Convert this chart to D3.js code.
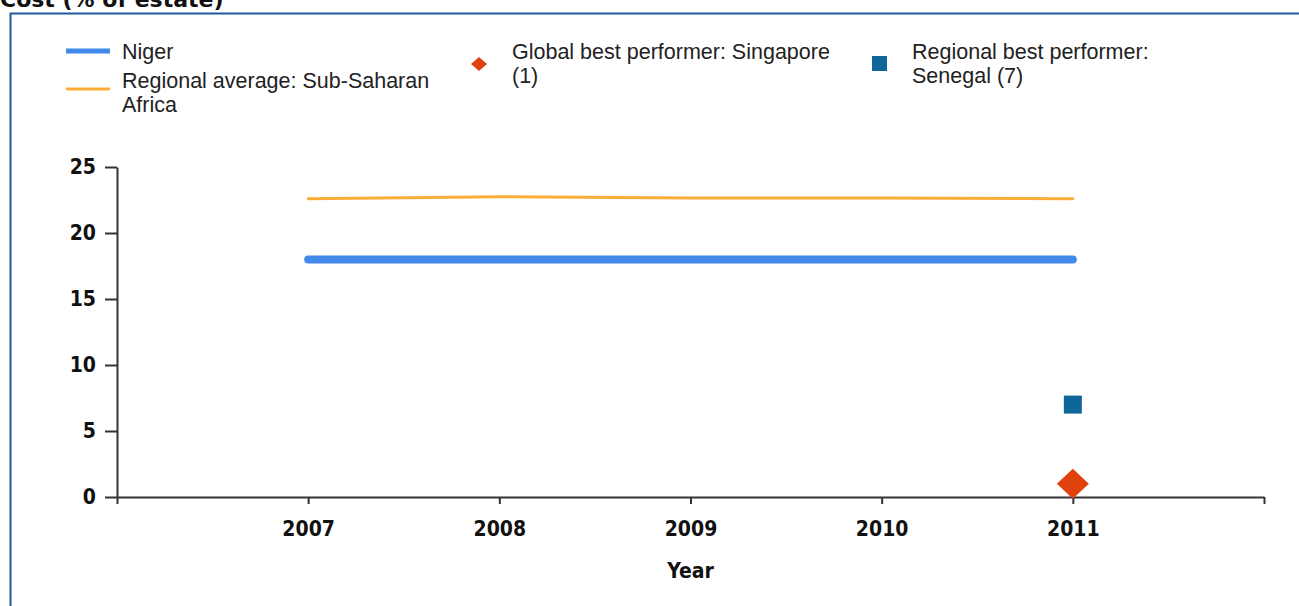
<!DOCTYPE html>
<html>
<head>
<meta charset="utf-8">
<script src="https://cdn.jsdelivr.net/npm/d3@7"></script>
<style>
  html, body { margin: 0; padding: 0; background: #fff; overflow: hidden; }
  svg { display: block; }
</style>
</head>
<body>
<svg id="chart" width="1299" height="606"></svg>
<script>
// Cost of resolving insolvency (% of estate)
const years = [2007, 2008, 2009, 2010, 2011];
const nigerValues = [18, 18, 18, 18, 18];
const regionalAvgValues = [22.6, 22.75, 22.65, 22.65, 22.6];
const globalBestYear = [2011];
const globalBestValues = [1];
const regionalBestYear = [2011];
const regionalBestValues = [7];
const yTicks = [0, 5, 10, 15, 20, 25];
const xTicks = [2006, 2007, 2008, 2009, 2010, 2011, 2012];

const colors = {
  niger: "#4189ea",
  regional: "#fbad3a",
  globalBest: "#e0420e",
  regionalBest: "#0f6699",
  axis: "#333333",
  frame: "#1f5a9c"
};

const svg = d3.select("#chart");

// Page title (sits at the very top edge of the view)
svg.append("text")
  .attr("x", 0).attr("y", 7)
  .attr("font-family", "DejaVu Sans, Verdana, sans-serif")
  .attr("font-weight", "bold")
  .attr("font-size", 22)
  .attr("fill", "#111")
  .text("Cost (% of estate)");

// Panel frame
svg.append("rect")
  .attr("x", 10.5).attr("y", 13.5)
  .attr("width", 1400).attr("height", 700)
  .attr("fill", "none")
  .attr("stroke", colors.frame)
  .attr("stroke-width", 2);

const x = d3.scaleLinear().domain([2006, 2012]).range([117, 1264]);
const y = d3.scaleLinear().domain([0, 25]).range([497, 167]);

const tickFont = "DejaVu Sans Condensed, DejaVu Sans, Tahoma, sans-serif";

// Y axis
const yAxis = svg.append("g")
  .attr("transform", `translate(${x.range()[0]},0)`)
  .call(d3.axisLeft(y).tickValues(yTicks).tickSize(12).tickSizeOuter(0).tickPadding(9));
yAxis.select(".domain").attr("stroke", colors.axis).attr("stroke-width", 2);
yAxis.selectAll(".tick line").attr("stroke", colors.axis).attr("stroke-width", 2);
yAxis.selectAll(".tick text")
  .attr("font-family", tickFont).attr("font-weight", "bold")
  .attr("font-size", 21).attr("fill", "#111");

// X axis
const xAxis = svg.append("g")
  .attr("transform", `translate(0,${y(0)})`)
  .call(d3.axisBottom(x).tickValues(xTicks).tickSize(7).tickSizeOuter(0).tickPadding(17)
    .tickFormat(d => years.includes(d) ? String(d) : ""));
xAxis.select(".domain").attr("stroke", colors.axis).attr("stroke-width", 2);
xAxis.selectAll(".tick line").attr("stroke", colors.axis).attr("stroke-width", 2);
xAxis.selectAll(".tick text")
  .attr("font-family", tickFont).attr("font-weight", "bold")
  .attr("font-size", 21).attr("fill", "#111");

svg.append("text")
  .attr("x", (x(2006) + x(2012)) / 2).attr("y", 578)
  .attr("text-anchor", "middle")
  .attr("font-family", tickFont).attr("font-weight", "bold")
  .attr("font-size", 21).attr("fill", "#111")
  .text("Year");

// Series lines
const line = d3.line().x(d => x(d[0])).y(d => y(d[1]));

svg.append("path")
  .datum(d3.zip(years, regionalAvgValues))
  .attr("d", line)
  .attr("fill", "none")
  .attr("stroke", colors.regional)
  .attr("stroke-width", 3)
  .attr("stroke-linecap", "round");

svg.append("path")
  .datum(d3.zip(years, nigerValues))
  .attr("d", line)
  .attr("fill", "none")
  .attr("stroke", colors.niger)
  .attr("stroke-width", 8)
  .attr("stroke-linecap", "round");

// Best-performer markers
svg.selectAll(".regional-best")
  .data(d3.zip(regionalBestYear, regionalBestValues))
  .join("path")
  .attr("class", "regional-best")
  .attr("transform", d => `translate(${x(d[0])},${y(d[1])})`)
  .attr("d", d3.symbol(d3.symbolSquare, 18 * 18))
  .attr("fill", colors.regionalBest);

svg.selectAll(".global-best")
  .data(d3.zip(globalBestYear, globalBestValues))
  .join("path")
  .attr("class", "global-best")
  .attr("transform", d => `translate(${x(d[0])},${y(d[1])})`)
  .attr("d", "M0,-15L16,0L0,15L-16,0Z")
  .attr("fill", colors.globalBest);

// Legend
const legendFont = "Liberation Sans, Arial, sans-serif";
const legend = svg.append("g")
  .attr("font-family", legendFont)
  .attr("font-size", 21.5)
  .attr("fill", "#222");

function legendText(xp, yp, lines) {
  const t = legend.append("text").attr("x", xp).attr("y", yp);
  lines.forEach((s, i) => {
    t.append("tspan").attr("x", xp).attr("dy", i === 0 ? 0 : 24).text(s);
  });
}

legend.append("line")
  .attr("x1", 66).attr("x2", 110).attr("y1", 51).attr("y2", 51)
  .attr("stroke", colors.niger).attr("stroke-width", 5);
legendText(122, 59, ["Niger"]);

legend.append("line")
  .attr("x1", 66).attr("x2", 110).attr("y1", 89).attr("y2", 89)
  .attr("stroke", colors.regional).attr("stroke-width", 3);
legendText(122, 88, ["Regional average: Sub-Saharan", "Africa"]);

legend.append("path")
  .attr("transform", "translate(479,64)")
  .attr("d", "M0,-7L8,0L0,7L-8,0Z")
  .attr("fill", colors.globalBest);
legendText(512, 59, ["Global best performer: Singapore", "(1)"]);

legend.append("rect")
  .attr("x", 872).attr("y", 56).attr("width", 15).attr("height", 15)
  .attr("fill", colors.regionalBest);
legendText(912, 59, ["Regional best performer:", "Senegal (7)"]);
</script>
</body>
</html>
